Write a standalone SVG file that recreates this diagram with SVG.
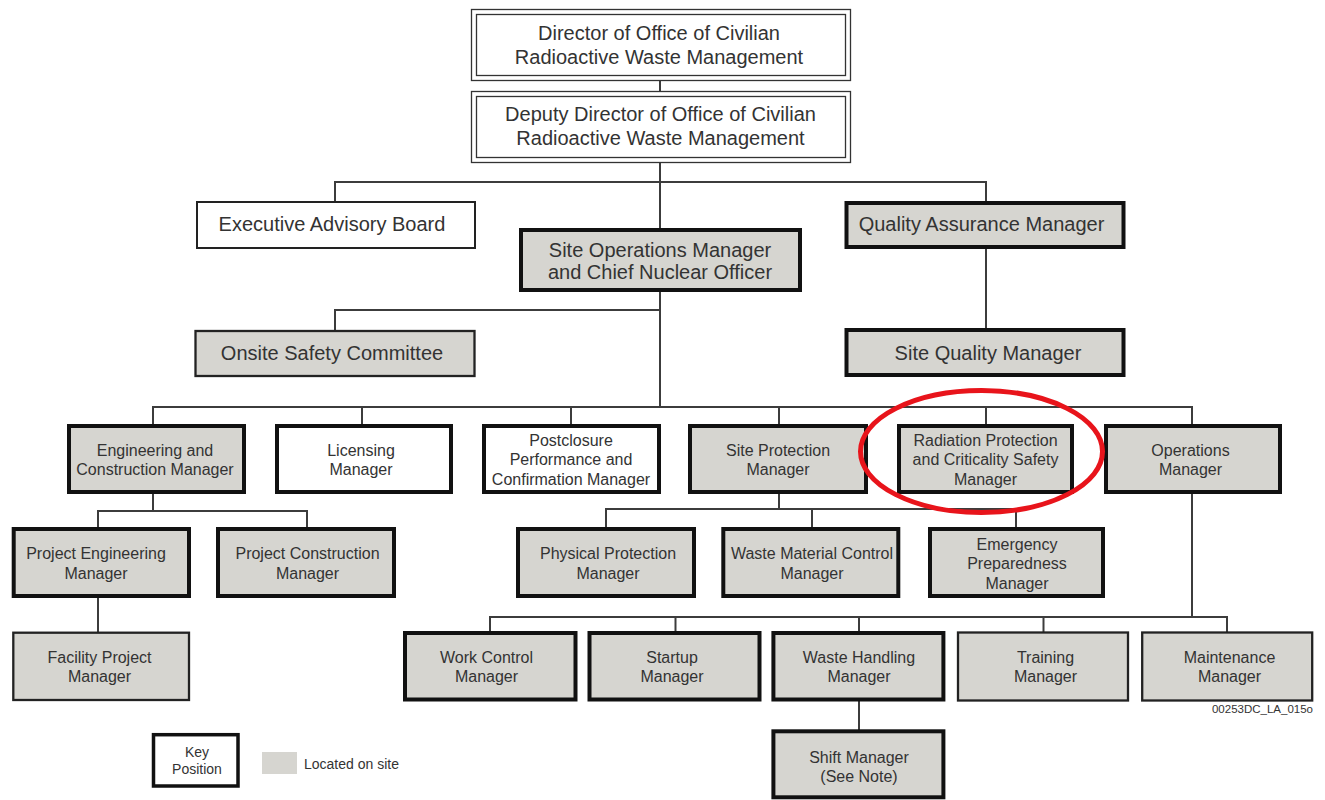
<svg xmlns="http://www.w3.org/2000/svg" width="1325" height="800" viewBox="0 0 1325 800">
<style>
text{font-family:"Liberation Sans",Arial,sans-serif;fill:#333;text-anchor:middle}
.t20{font-size:20px}
.t16{font-size:16px}
.t14{font-size:14px}
.dbl{fill:#fff;stroke:#333;stroke-width:1.3}
.w2{fill:#fff;stroke:#222;stroke-width:2}
.wk{fill:#fff;stroke:#111;stroke-width:4}
.gk{fill:#d6d5d0;stroke:#111;stroke-width:4}
.g2{fill:#d6d5d0;stroke:#222;stroke-width:2.3}
.conn line,.conn path{stroke:#3c3c3c;stroke-width:2;fill:none}
</style>
<rect width="1325" height="800" fill="#fff"/>
<g class="conn" id="connectors">
<line x1="660" y1="80" x2="660" y2="92"/>
<line x1="660" y1="162" x2="660" y2="230"/>
<path d="M335 201V182H986V201"/>
<line x1="986" y1="249" x2="986" y2="330"/>
<line x1="660" y1="290" x2="660" y2="407"/>
<path d="M335 331V310H660"/>
<path d="M153 426V407H1192V426"/>
<line x1="362" y1="407" x2="362" y2="426"/>
<line x1="571" y1="407" x2="571" y2="426"/>
<line x1="779" y1="407" x2="779" y2="426"/>
<line x1="986" y1="407" x2="986" y2="426"/>
<line x1="153" y1="492" x2="153" y2="511"/>
<path d="M98 529V511H307V529"/>
<line x1="98" y1="596" x2="98" y2="633"/>
<line x1="779" y1="492" x2="779" y2="509"/>
<path d="M606 529V509H1016V529"/>
<line x1="812" y1="509" x2="812" y2="529"/>
<line x1="1192" y1="492" x2="1192" y2="617"/>
<path d="M490 633V617H1227V633"/>
<line x1="675.5" y1="617" x2="675.5" y2="633"/>
<line x1="859" y1="617" x2="859" y2="633"/>
<line x1="1043.5" y1="617" x2="1043.5" y2="633"/>
<line x1="859" y1="699" x2="859" y2="731"/>
</g>
<g id="director">
<rect class="dbl" x="471.5" y="9.5" width="379" height="71"/>
<rect class="dbl" x="476.5" y="14.5" width="369" height="61"/>
<text class="t20" x="659" y="39.5">Director of Office of Civilian</text>
<text class="t20" x="659" y="63.5">Radioactive Waste Management</text>
</g>
<g id="deputy">
<rect class="dbl" x="471.5" y="91.5" width="379" height="71"/>
<rect class="dbl" x="476.5" y="96.5" width="369" height="61"/>
<text class="t20" x="660.5" y="121">Deputy Director of Office of Civilian</text>
<text class="t20" x="660.5" y="145">Radioactive Waste Management</text>
</g>
<g id="executive-advisory-board">
<rect class="w2" x="197" y="202" width="278" height="46"/>
<text class="t20" x="332" y="231">Executive Advisory Board</text>
</g>
<g id="site-operations-manager">
<rect class="gk" x="521" y="230" width="279" height="60"/>
<text class="t20" x="660" y="257">Site Operations Manager</text>
<text class="t20" x="660" y="279">and Chief Nuclear Officer</text>
</g>
<g id="quality-assurance-manager">
<rect class="gk" x="846.5" y="203" width="277" height="44"/>
<text class="t20" x="981.5" y="231">Quality Assurance Manager</text>
</g>
<g id="site-quality-manager">
<rect class="gk" x="846.5" y="330" width="277" height="45"/>
<text class="t20" x="988" y="360">Site Quality Manager</text>
</g>
<g id="onsite-safety-committee">
<rect class="g2" x="195.5" y="331" width="279" height="45"/>
<text class="t20" x="332" y="360">Onsite Safety Committee</text>
</g>
<g id="engineering-construction-manager">
<rect class="gk" x="69" y="426" width="175" height="66"/>
<text class="t16" x="155" y="455.5">Engineering and</text>
<text class="t16" x="155" y="474.5">Construction Manager</text>
</g>
<g id="licensing-manager">
<rect class="wk" x="277" y="426" width="174" height="66"/>
<text class="t16" x="361" y="455.5">Licensing</text>
<text class="t16" x="361" y="474.5">Manager</text>
</g>
<g id="postclosure-manager">
<rect class="wk" x="484" y="426" width="175" height="66"/>
<text class="t16" x="571" y="445.5">Postclosure</text>
<text class="t16" x="571" y="465">Performance and</text>
<text class="t16" x="571" y="484.5">Confirmation Manager</text>
</g>
<g id="site-protection-manager">
<rect class="gk" x="690" y="426" width="176" height="66"/>
<text class="t16" x="778" y="455.5">Site Protection</text>
<text class="t16" x="778" y="474.5">Manager</text>
</g>
<g id="radiation-protection-manager">
<rect class="gk" x="899" y="426" width="173" height="66"/>
<text class="t16" x="985.5" y="445.5">Radiation Protection</text>
<text class="t16" x="985.5" y="465">and Criticality Safety</text>
<text class="t16" x="985.5" y="484.5">Manager</text>
</g>
<g id="operations-manager">
<rect class="gk" x="1106" y="426" width="174" height="66"/>
<text class="t16" x="1190.5" y="455.5">Operations</text>
<text class="t16" x="1190.5" y="474.5">Manager</text>
</g>
<g id="project-engineering-manager">
<rect class="gk" x="13.7" y="529" width="175.3" height="67"/>
<text class="t16" x="96" y="559">Project Engineering</text>
<text class="t16" x="96" y="578.5">Manager</text>
</g>
<g id="project-construction-manager">
<rect class="gk" x="218" y="529" width="176" height="67"/>
<text class="t16" x="307.5" y="559">Project Construction</text>
<text class="t16" x="307.5" y="578.5">Manager</text>
</g>
<g id="physical-protection-manager">
<rect class="gk" x="518" y="529" width="176" height="67"/>
<text class="t16" x="608" y="559">Physical Protection</text>
<text class="t16" x="608" y="578.5">Manager</text>
</g>
<g id="waste-material-control-manager">
<rect class="gk" x="723.3" y="529" width="175" height="67"/>
<text class="t16" x="812" y="559">Waste Material Control</text>
<text class="t16" x="812" y="578.5">Manager</text>
</g>
<g id="emergency-preparedness-manager">
<rect class="gk" x="930" y="529" width="173" height="67"/>
<text class="t16" x="1017" y="549.5">Emergency</text>
<text class="t16" x="1017" y="569">Preparedness</text>
<text class="t16" x="1017" y="588.5">Manager</text>
</g>
<g id="facility-project-manager">
<rect class="g2" x="13.3" y="632.7" width="175.7" height="67.3"/>
<text class="t16" x="99.5" y="662.7">Facility Project</text>
<text class="t16" x="99.5" y="681.7">Manager</text>
</g>
<g id="work-control-manager">
<rect class="gk" x="405" y="633" width="170.5" height="66.5"/>
<text class="t16" x="486.5" y="662.7">Work Control</text>
<text class="t16" x="486.5" y="681.7">Manager</text>
</g>
<g id="startup-manager">
<rect class="gk" x="589.5" y="633" width="170" height="66.5"/>
<text class="t16" x="672" y="662.7">Startup</text>
<text class="t16" x="672" y="681.7">Manager</text>
</g>
<g id="waste-handling-manager">
<rect class="gk" x="773.4" y="633" width="170" height="66.5"/>
<text class="t16" x="859" y="662.7">Waste Handling</text>
<text class="t16" x="859" y="681.7">Manager</text>
</g>
<g id="training-manager">
<rect class="g2" x="958" y="632.5" width="170" height="68"/>
<text class="t16" x="1045.5" y="662.7">Training</text>
<text class="t16" x="1045.5" y="681.7">Manager</text>
</g>
<g id="maintenance-manager">
<rect class="g2" x="1142.2" y="632.5" width="170" height="68"/>
<text class="t16" x="1229.5" y="662.7">Maintenance</text>
<text class="t16" x="1229.5" y="681.7">Manager</text>
</g>
<g id="shift-manager">
<rect class="gk" x="773.4" y="731.3" width="170" height="66"/>
<text class="t16" x="859" y="763">Shift Manager</text>
<text class="t16" x="859" y="782">(See Note)</text>
</g>
<text x="1313" y="712.7" style="font-size:11.5px;text-anchor:end">00253DC_LA_015o</text>
<g id="legend">
<rect class="wk" x="153.5" y="734.7" width="84.5" height="51.3" style="stroke-width:3.5"/>
<text class="t14" x="197" y="757.3">Key</text>
<text class="t14" x="197" y="774">Position</text>
<rect x="262" y="752" width="35" height="22" fill="#d6d5d0"/>
<text class="t14" x="304" y="768.7" style="text-anchor:start">Located on site</text>
</g>
<ellipse id="highlight" cx="981.5" cy="451.5" rx="121" ry="61" fill="none" stroke="#e8141b" stroke-width="5"/>
</svg>
